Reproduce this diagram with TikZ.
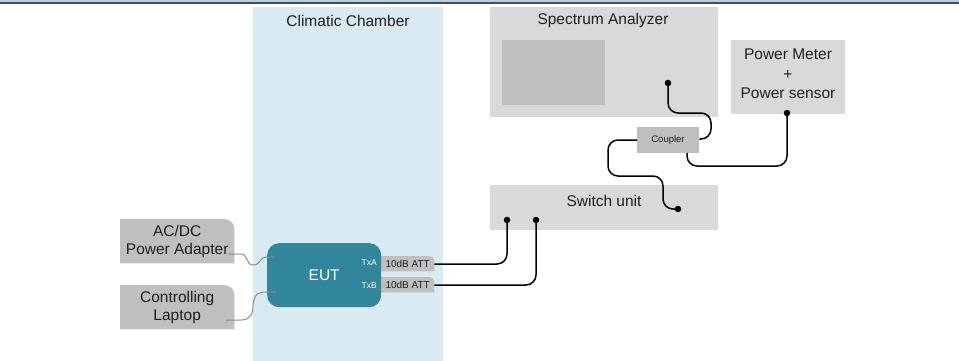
\documentclass[tikz,border=0pt]{standalone}
\usepackage{fontspec}
\setmainfont{Liberation Sans}
\pgfdeclarelayer{back}
\pgfdeclarelayer{mid}
\pgfsetlayers{back,mid,main}
\definecolor{chamber}{HTML}{DAEAF2}
\definecolor{boxgray}{HTML}{D9D9D9}
\definecolor{darkgray2}{HTML}{BFBFBF}
\definecolor{eutcol}{HTML}{31869B}
\definecolor{barlight}{HTML}{B8CCE4}
\definecolor{bardark}{HTML}{434D5C}
\definecolor{txtcol}{HTML}{1E1E1E}
\definecolor{cablegray}{HTML}{8C8C8C}
\newcommand\myTRbox[3]{%
  \begin{pgfonlayer}{mid}
    \fill[#3] (#1.south west) -- (#1.north west) -- ([xshift=-#2]#1.north east)
      arc[start angle=90,end angle=0,radius=#2] -- (#1.south east) -- cycle;
  \end{pgfonlayer}}
\begin{document}
\begin{tikzpicture}[x=1pt,y=1pt,
  bigtxt/.style={font=\fontsize{15.5}{18}\selectfont, text=txtcol, align=center},
  box/.style={fill=boxgray, inner sep=0pt, anchor=north west},
  plainbox/.style={inner sep=0pt, anchor=north west, bigtxt},
  smalltxt/.style={font=\fontsize{10}{12}\selectfont, text=txtcol, inner sep=0pt},
  txlab/.style={font=\fontsize{8.5}{10}\selectfont, text=white, inner sep=0pt, anchor=east},
  cable/.style={line width=1.5pt, black, rounded corners=10pt},
  gcable/.style={line width=1pt, cablegray},
  port/.style={circle, fill=black, inner sep=0pt, minimum size=6.5pt}
]
\useasboundingbox (0,0) rectangle (959,-361);
% top bar
\fill[barlight] (0,0) rectangle (959,-2.2);
\fill[bardark] (0,-2.2) rectangle (959,-3.6);

% climatic chamber
\begin{pgfonlayer}{back}
\node[fill=chamber, inner sep=0pt, anchor=north west, minimum width=190pt, minimum height=354pt] (chamber) at (253,-7) {};
\end{pgfonlayer}
\node[bigtxt] (chambertitle) at (348,-20.5) {Climatic Chamber};

% spectrum analyzer
\node[box, minimum width=228pt, minimum height=110pt] (sa) at (490,-7) {};
\node[bigtxt] (satitle) at (603,-20.5) {Spectrum Analyzer};
\node[fill=darkgray2, inner sep=0pt, anchor=north west, minimum width=103pt, minimum height=65pt] (screen) at (502,-40) {};

% power meter
\node[box, minimum width=114pt, minimum height=74pt] (pm) at (731,-40) {};
\node[bigtxt, font=\fontsize{15.5}{19.5}\selectfont] (pmtxt) at (788,-74) {Power Meter\\+\\Power sensor};

% coupler
\node[fill=darkgray2, inner sep=0pt, anchor=north west, minimum width=62pt, minimum height=26pt] (coupler) at (637,-127) {};
\node[font=\fontsize{9.5}{11}\selectfont, text=txtcol, inner sep=0pt] (couplertxt) at (668,-140) {Coupler};

% switch unit
\node[box, minimum width=228pt, minimum height=45pt] (sw) at (490,-185) {};
\node[bigtxt] (swtxt) at (604,-200.5) {Switch unit};

% AC/DC adapter and laptop
\node[plainbox, minimum width=114pt, minimum height=44pt] (adapter) at (120,-219) {AC/DC\\Power Adapter};
\myTRbox{adapter}{10pt}{darkgray2}
\node[plainbox, minimum width=114pt, minimum height=44pt] (laptop) at (120,-285) {Controlling\\Laptop};
\myTRbox{laptop}{10pt}{darkgray2}

% EUT
\node[fill=eutcol, rounded corners=12pt, inner sep=0pt, anchor=north west, minimum width=114pt, minimum height=64pt,
      font=\fontsize{15.5}{18}\selectfont, text=white] (eut) at (267,-243) {EUT};
\node[txlab] (txa) at (377,-263) {TxA};
\node[txlab] (txb) at (377,-286) {TxB};

% attenuators
\node[inner sep=0pt, anchor=north west, minimum width=53pt, minimum height=15pt, smalltxt] (atta) at (381,-256) {10dB ATT};
\myTRbox{atta}{5pt}{darkgray2}
\node[inner sep=0pt, anchor=north west, minimum width=53pt, minimum height=15pt, smalltxt] (attb) at (381,-277) {10dB ATT};
\myTRbox{attb}{5pt}{darkgray2}

% ports
\node[port] (saport) at (668,-83) {};
\node[port] (pmport) at (787,-113) {};
\node[port] (swout) at (678,-209) {};
\node[port] (swa) at (507,-220) {};
\node[port] (swb) at (536,-220) {};

% black cables
\draw[cable] (saport.center) -- (668,-113) -- (711,-113) -- (711,-139) -- (coupler.east |- 0,-139);
\draw[cable] (coupler.west |- 0,-140) -- (608,-140) -- (608,-176) -- (663,-176) -- (663,-209) -- (swout.center);
\draw[cable] (687,-153) -- (687,-166) -- (787,-166) -- (pmport.center);
\draw[cable] (swa.center) -- (507,-264) -- (atta.east |- 0,-264);
\draw[cable] (swb.center) -- (536,-285) -- (attb.east |- 0,-285);

% gray cables
\draw[gcable] ([xshift=-6pt,yshift=-13pt]adapter.east) -- (241,-254)
   .. controls (248,-254) and (246,-265) .. (253,-265)
   .. controls (261,-265) and (259,-257) .. (267,-257) -- (275,-257);
\draw[gcable] ([xshift=-9pt,yshift=-13pt]laptop.east) -- (241,-320)
   .. controls (251,-320) and (253,-313) .. (253,-305)
   -- (254,-300) .. controls (255,-294) and (259,-292) .. (267,-292) -- (276,-292);
\end{tikzpicture}
\end{document}
